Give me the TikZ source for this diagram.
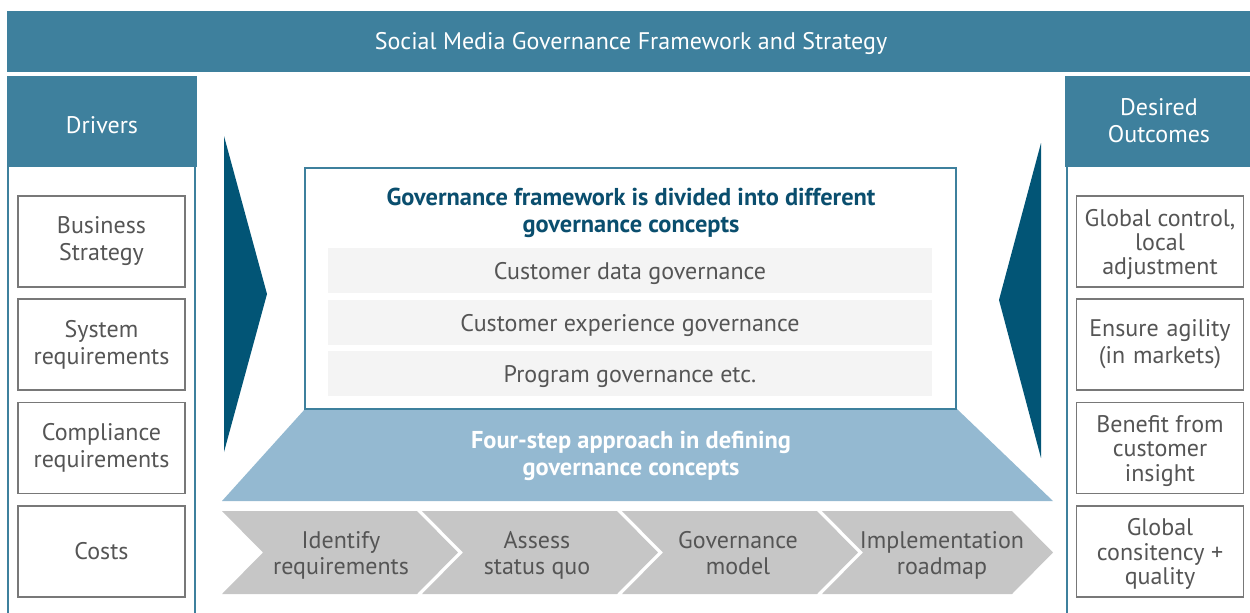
\documentclass[tikz,border=0pt]{standalone}
\usepackage{fontspec}
\setmainfont{PT Sans}
\definecolor{teal1}{RGB}{62,128,157}
\definecolor{darkarrow}{RGB}{2,85,118}
\definecolor{lightblue}{RGB}{148,185,209}
\definecolor{titleblue}{RGB}{10,78,110}
\definecolor{barfill}{RGB}{244,244,244}
\definecolor{chevfill}{RGB}{198,198,198}
\definecolor{txtgray}{RGB}{85,85,85}
\definecolor{boxgray}{RGB}{120,120,120}
\tikzset{
  hdrtext/.style={text=white, font=\fontsize{12}{13.5}\selectfont, align=center},
  itembox/.style={draw=boxgray, line width=0.8pt, fill=white, minimum width=83.5pt, minimum height=45.5pt, text width=82pt, align=center, text=txtgray, font=\fontsize{12}{13.5}\selectfont, inner sep=0pt},
  boxtext/.style={align=center, text=txtgray, font=\fontsize{12}{12.2}\selectfont, inner sep=0pt},
  bartext/.style={text=txtgray, font=\fontsize{12}{13.5}\selectfont},
  chevtext/.style={text=txtgray, font=\fontsize{12}{13}\selectfont, align=center},
  paneledge/.style={draw=teal1, line width=1pt}
}
\begin{document}
\begin{tikzpicture}[x=0.5pt,y=-0.5pt]
\useasboundingbox (0,0) rectangle (1250,612);
% top banner
\fill[teal1] (7,11) rectangle (1250,72);
\node[hdrtext] (banner) at (631,43.5) {Social Media Governance Framework and Strategy};
% left panel
\draw[paneledge] (8,614) -- (8,160) -- (195,160) -- (195,614);
\fill[teal1] (7,76) rectangle (197,167);
\node[hdrtext] (drivers) at (102,125.5) {Drivers};
\node[itembox] (d1) at (101.5,241.5) {Business\\Strategy};
\node[itembox] (d2) at (101.5,344.5) {System\\requirements};
\node[itembox] (d3) at (101.5,448) {Compliance\\requirements};
\node[itembox] (d4) at (101.5,551.5) {Costs};
% right panel
\draw[paneledge] (1067,614) -- (1067,160) -- (1252,160);
\fill[teal1] (1065,76) rectangle (1250,167);
\node[hdrtext] (outcomes) at (1159,121) {Desired\\Outcomes};
\node[itembox] (o1) at (1160,241.5) {};
\node[boxtext] (o1t) at (1160,244.5) {Global control,\\local\\adjustment};
\node[itembox] (o2) at (1160,344.5) {Ensure agility\\(in markets)};
\node[itembox] (o3) at (1160,448) {};
\node[boxtext] (o3t) at (1160,451) {Benefit from\\customer\\insight};
\node[itembox] (o4) at (1160,551.5) {};
\node[boxtext] (o4t) at (1160,554) {Global\\consitency +\\quality};
% dark arrows
\fill[darkarrow] (224,136) -- (267,294) -- (224,452) -- cycle;
\fill[darkarrow] (1041,143) -- (999,300) -- (1041,458) -- cycle;
% light blue trapezoid
\fill[lightblue] (305,409) -- (957,409) -- (1053,501) -- (222,501) -- cycle;
\node[text=white, font=\bfseries\fontsize{12.2}{13.5}\selectfont, align=center] (four) at (631,456) {Four-step approach in defining\\governance concepts};
% center box
\draw[teal1, line width=0.8pt, fill=white] (305,168) rectangle (956,409);
\node[text=titleblue, font=\bfseries\fontsize{12.2}{13.5}\selectfont, align=center] (gtitle) at (631,213) {Governance framework is divided into different\\governance concepts};
\fill[barfill] (328,248) rectangle (932,293);
\node[bartext] (b1) at (630,273.5) {Customer data governance};
\fill[barfill] (328,300) rectangle (932,345);
\node[bartext] (b2) at (630,325.5) {Customer experience governance};
\fill[barfill] (328,351) rectangle (932,396);
\node[bartext] (b3) at (630,377) {Program governance etc.};
% chevrons
\foreach \xl/\xr in {222/417, 422/617, 622/817, 822/1012}{
  \fill[chevfill] (\xl,511) -- (\xr,511) -- (\xr+41,552.5) -- (\xr,594) -- (\xl,594) -- (\xl+41,552.5) -- cycle;
}
\node[chevtext] (s1) at (341,555) {Identify\\requirements};
\node[chevtext] (s2) at (537,555) {Assess\\status quo};
\node[chevtext] (s3) at (738,553) {Governance\\model};
\node[chevtext] (s4) at (942,555) {Implementation\\roadmap};
\end{tikzpicture}
\end{document}
